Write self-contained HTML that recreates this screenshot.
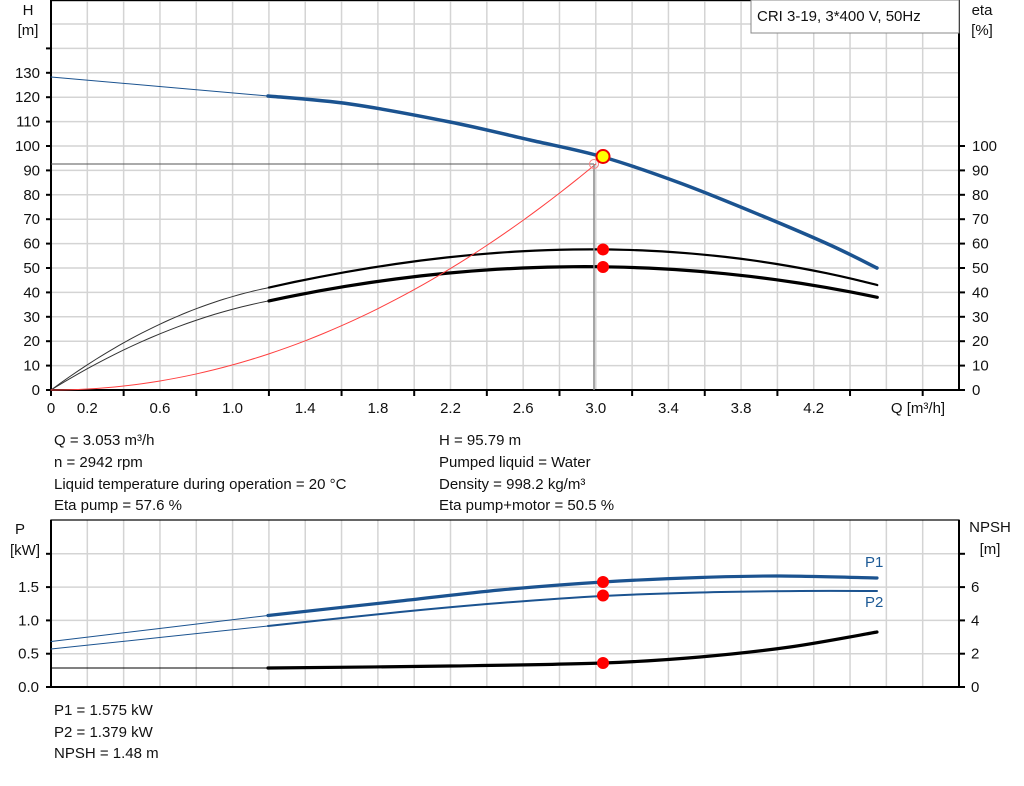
<!DOCTYPE html>
<html><head><meta charset="utf-8"><style>
body{margin:0;background:#fff;width:1024px;height:781px;overflow:hidden;font-family:"Liberation Sans",sans-serif}
svg text{font-family:"Liberation Sans",sans-serif;font-size:15px;fill:#111}
</style></head><body>
<svg id="s" width="1024" height="781" xmlns="http://www.w3.org/2000/svg">
<g id="grid" stroke="#d4d4d4" stroke-width="1.5"></g>
<g id="ax"></g>
<g id="cv" fill="none"></g>
<rect x="751" y="0" width="208" height="33" fill="#fff" stroke="#888" stroke-width="1"/>
<text x="757" y="21">CRI 3-19, 3*400 V, 50Hz</text>
<text x="28" y="15" text-anchor="middle">H</text>
<text x="28" y="35" text-anchor="middle">[m]</text>
<text x="982" y="15" text-anchor="middle">eta</text>
<text x="982" y="35" text-anchor="middle">[%]</text>
<text x="20" y="534" text-anchor="middle">P</text>
<text x="25" y="555" text-anchor="middle">[kW]</text>
<text x="990" y="532" text-anchor="middle">NPSH</text>
<text x="990" y="554" text-anchor="middle">[m]</text>
<text x="918" y="413" text-anchor="middle">Q [m³/h]</text>
<text x="54" y="445">Q = 3.053 m³/h</text>
<text x="54" y="467">n = 2942 rpm</text>
<text x="54" y="489">Liquid temperature during operation = 20 °C</text>
<text x="54" y="510">Eta pump = 57.6 %</text>
<text x="439" y="445">H = 95.79 m</text>
<text x="439" y="467">Pumped liquid = Water</text>
<text x="439" y="489">Density = 998.2 kg/m³</text>
<text x="439" y="510">Eta pump+motor = 50.5 %</text>
<text x="54" y="715">P1 = 1.575 kW</text>
<text x="54" y="737">P2 = 1.379 kW</text>
<text x="54" y="758">NPSH = 1.48 m</text>
<text x="865" y="567" style="fill:#1d5a96">P1</text>
<text x="865" y="607" style="fill:#1d5a96">P2</text>
</svg>
<script>
const NS="http://www.w3.org/2000/svg";
function el(p,t,a,txt){const e=document.createElementNS(NS,t);for(const k in a)e.setAttribute(k,a[k]);if(txt!==undefined)e.textContent=txt;document.getElementById(p).appendChild(e);return e;}
const X0=51,X1=959,qx=q=>X0+q*181.6;
for(let i=1;i<25;i++){const x=qx(i*0.2);el('grid','line',{x1:x,y1:0,x2:x,y2:390});el('grid','line',{x1:x,y1:520,x2:x,y2:687});}
for(let v=10;v<=150;v+=10){const y=390-v*2.44;el('grid','line',{x1:X0,y1:y,x2:X1,y2:y});}
el('grid','line',{x1:X0,y1:1,x2:X1,y2:1});
for(let i=1;i<5;i++){const y=687-i*33.3;el('grid','line',{x1:X0,y1:y,x2:X1,y2:y});}
el('ax','rect',{x:X0,y:0.5,width:X1-X0,height:389.5,fill:'none',stroke:'#000','stroke-width':1.2});
el('ax','rect',{x:X0,y:520,width:X1-X0,height:167,fill:'none',stroke:'#000','stroke-width':1.2});
el('ax','line',{x1:X0,y1:0,x2:X0,y2:391,stroke:'#000','stroke-width':2});
el('ax','line',{x1:X1,y1:0,x2:X1,y2:391,stroke:'#000','stroke-width':2});
el('ax','line',{x1:X0,y1:390,x2:X1,y2:390,stroke:'#000','stroke-width':2});
el('ax','line',{x1:X0,y1:520,x2:X0,y2:688,stroke:'#000','stroke-width':2});
el('ax','line',{x1:X1,y1:520,x2:X1,y2:688,stroke:'#000','stroke-width':2});
el('ax','line',{x1:X0,y1:687,x2:X1,y2:687,stroke:'#000','stroke-width':2});
for(let v=0;v<=140;v+=10){const y=390-v*2.44;el('ax','line',{x1:X0-5,y1:y,x2:X0,y2:y,stroke:'#000','stroke-width':2});if(v<=130)el('ax','text',{x:X0-11,y:y+5,'text-anchor':'end'},v);}
for(let v=0;v<=100;v+=10){const y=390-v*2.44;el('ax','line',{x1:X1,y1:y,x2:X1+6,y2:y,stroke:'#000','stroke-width':2});el('ax','text',{x:X1+13,y:y+5},v);}
for(let i=0;i<=12;i++){const x=qx(i*0.4);el('ax','line',{x1:x,y1:390,x2:x,y2:396,stroke:'#000','stroke-width':2});}
['0','0.2','0.6','1.0','1.4','1.8','2.2','2.6','3.0','3.4','3.8','4.2'].forEach(t=>el('ax','text',{x:qx(+t),y:413,'text-anchor':'middle'},t));
['0.0','0.5','1.0','1.5'].forEach((t,i)=>{const y=687-i*33.3;el('ax','text',{x:X0-12,y:y+5,'text-anchor':'end'},t);});
for(let i=0;i<=4;i++){const y=687-i*33.3;el('ax','line',{x1:X0-5,y1:y,x2:X0,y2:y,stroke:'#000','stroke-width':2});el('ax','line',{x1:X1,y1:y,x2:X1+6,y2:y,stroke:'#000','stroke-width':2});if(i<4)el('ax','text',{x:X1+12,y:y+5},i*2);}
function cr(p){let d='M'+p[0];for(let i=0;i<p.length-1;i++){const a=p[i-1]||p[i],b=p[i],c=p[i+1],e=p[i+2]||c;d+=`C${b[0]+(c[0]-a[0])/6},${b[1]+(c[1]-a[1])/6} ${c[0]-(e[0]-b[0])/6},${c[1]-(e[1]-b[1])/6} ${c[0]},${c[1]}`;}return d;}
function P(pts,col,w){el('cv','path',{d:cr(pts),stroke:col,'stroke-width':w,fill:'none','stroke-linecap':'round'});}
function F(f,q0,q1,col,w){let p=[];for(let i=0;i<=24;i++){const q=q0+(q1-q0)*i/24;p.push([qx(q),f(q)]);}P(p,col,w);}
function lag(pts){return q=>{let s=0;for(let i=0;i<pts.length;i++){let t=pts[i][1];for(let j=0;j<pts.length;j++)if(j!==i)t*=(q-pts[j][0])/(pts[i][0]-pts[j][0]);s+=t;}return s;};}
const ey=f=>q=>390-2.44*f(q);
const B='#1b5390';
P([[51,77],[268,96]],B,1);
P([[268,96],[350,104],[450,122],[530,140],[603,157],[680,183],[760,215],[830,245],[877,268]],B,3.5);
F(ey(q=>55*q-16.7*q*q),0,1.2,'#333',1);
F(ey(lag([[1.2,42],[2.31,55.3],[3.05,57.6],[4.55,43]])),1.2,4.55,'#000',2.2);
F(ey(q=>46.3*q-13.2*q*q),0,1.2,'#333',1);
F(ey(lag([[1.2,36.5],[2.03,46.7],[3.05,50.5],[4.55,38]])),1.2,4.55,'#000',3.2);
let rp=[];for(let i=0;i<=30;i++){const q=i/10;rp.push([qx(q),390-226*(q/3)*(q/3)]);}
P(rp,'#ff4040',1);
el('cv','line',{x1:51,y1:164,x2:594,y2:164,stroke:'#555','stroke-width':1});
el('cv','line',{x1:594,y1:164,x2:594,y2:390,stroke:'#888','stroke-width':1.5});
el('cv','circle',{cx:594,cy:164,r:4.5,stroke:'#f08080','stroke-width':1,fill:'none'});
el('cv','circle',{cx:603,cy:156.5,r:6.5,stroke:'#e00','stroke-width':2,fill:'#ff0'});
el('cv','circle',{cx:603,cy:249.5,r:6,fill:'#f00'});
el('cv','circle',{cx:603,cy:267,r:6,fill:'#f00'});
P([[51,641.5],[268,615.5]],B,1);
P([[268,615.5],[400,601],[500,590],[603,582],[700,577.5],[780,576],[877,578]],B,3.2);
P([[51,649],[268,626]],B,1);
P([[268,626],[400,612],[500,603],[603,596],[700,592.5],[800,591],[877,591]],B,2);
P([[51,668],[268,668]],'#000',1);
P([[268,668],[450,666],[603,663],[700,657],[790,647],[877,632]],'#000',3.2);
el('cv','circle',{cx:603,cy:582,r:6,fill:'#f00'});
el('cv','circle',{cx:603,cy:595.5,r:6,fill:'#f00'});
el('cv','circle',{cx:603,cy:663,r:6,fill:'#f00'});
</script>
</body></html>
